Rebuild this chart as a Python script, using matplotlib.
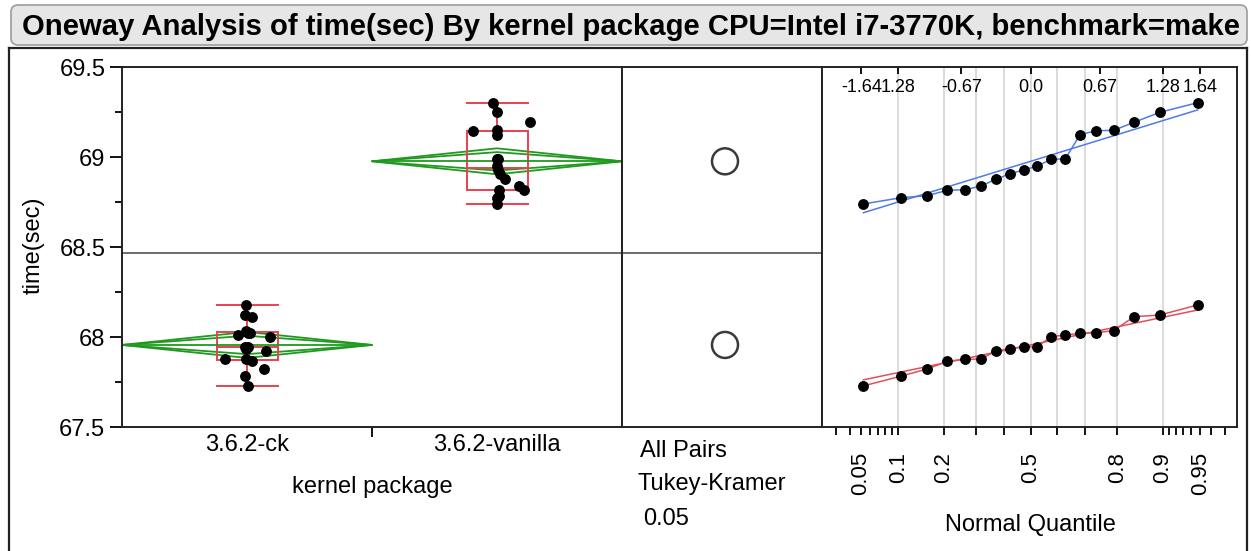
import numpy as np
import matplotlib
matplotlib.use('Agg')
import matplotlib.pyplot as plt
from matplotlib import font_manager, transforms
from matplotlib.patches import FancyBboxPatch, Rectangle, Circle, Polygon
from matplotlib.lines import Line2D
from statistics import NormalDist

# data (sorted run times per kernel, 18 runs each)
groups = ['3.6.2-ck', '3.6.2-vanilla']
time_ck = [67.728, 67.783, 67.822, 67.865, 67.876, 67.878, 67.922, 67.935, 67.946,
           67.946, 68.002, 68.011, 68.020, 68.024, 68.035, 68.113, 68.122, 68.178]
time_vanilla = [68.739, 68.774, 68.785, 68.815, 68.818, 68.839, 68.876, 68.907, 68.928,
                68.950, 68.987, 68.989, 69.124, 69.146, 69.148, 69.193, 69.248, 69.302]
# horizontal jitter of the dots (category units)
jitter_ck = [0.004, -0.008, 0.068, 0.02, -0.088, -0.004, 0.076, -0.004, 0.004,
             -0.008, 0.092, -0.036, 0.004, 0.012, -0.004, 0.02, -0.008, -0.004]
jitter_vanilla = [0.0, 0.0, 0.008, 0.008, 0.108, 0.088, 0.032, 0.012, 0.004,
                  0.0, 0.0, 0.004, 0.0, -0.096, 0.0, 0.132, 0.0, -0.016]
prob_ticks = [0.03, 0.04, 0.05, 0.06, 0.07, 0.08, 0.09, 0.1, 0.2, 0.3, 0.4, 0.5,
              0.6, 0.7, 0.8, 0.9, 0.91, 0.92, 0.93, 0.94, 0.95, 0.96, 0.97]
prob_labels = {0.05: '0.05', 0.1: '0.1', 0.2: '0.2', 0.5: '0.5', 0.8: '0.8',
               0.9: '0.9', 0.95: '0.95'}
quantile_marks = [-1.64, -1.28, -0.67, 0.0, 0.67, 1.28, 1.64]
quantile_labels = ['-1.64', '1.28', '-0.67', '0.0', '0.67', '1.28', '1.64']
title = 'Oneway Analysis of time(sec) By kernel package CPU=Intel i7-3770K, benchmark=make'

t_crit = 2.032  # t(0.975, 34)

names = {f.name for f in font_manager.fontManager.ttflist}
base_font = 'Liberation Sans' if 'Liberation Sans' in names else 'DejaVu Sans'
title_font = 'Liberation Sans Narrow' if 'Liberation Sans Narrow' in names else base_font
plt.rcParams['font.family'] = [base_font, 'DejaVu Sans']

W, H = 1251, 551
fig = plt.figure(figsize=(W / 100, H / 100), dpi=100)


def box(l, t, r, b):
    return [l / W, 1 - b / H, (r - l) / W, (b - t) / H]


def ftext(x, y, s, **kw):
    return fig.text(x / W, 1 - y / H, s, **kw)


# title bar + outer frame
fig.add_artist(FancyBboxPatch((11, H - 45), 1236, 40, boxstyle='round,pad=0,rounding_size=7',
                              transform=transforms.IdentityTransform(),
                              facecolor='#e6e6e6', edgecolor='#9c9c9c', lw=1.2))
tt = ftext(22, 35, title, fontsize=20, weight='bold', family=title_font, va='baseline')
fig.canvas.draw()
bb = tt.get_window_extent(fig.canvas.get_renderer())
tt.set_fontsize(20 * 1216 / bb.width)

for xs, ys in [([9, 9], [48, 560]), ([9, 1247], [48, 48]), ([1247, 1247], [48, 560])]:
    fig.add_artist(Line2D([x / W for x in xs], [1 - y / H for y in ys], color='#222222', lw=1.6))

ax1 = fig.add_axes(box(122, 67, 622, 427))
ax2 = fig.add_axes(box(622, 67, 822, 427))
ax3 = fig.add_axes(box(822, 67, 1237, 427))
for ax in (ax1, ax2, ax3):
    ax.set_ylim(67.5, 69.5)
    for sp in ax.spines.values():
        sp.set_color('#222222')
        sp.set_linewidth(1.4)

data = [np.array(time_ck), np.array(time_vanilla)]
jitters = [np.array(jitter_ck), np.array(jitter_vanilla)]
n = len(time_ck)
mse = sum(((v - v.mean()) ** 2).sum() for v in data) / (sum(len(v) for v in data) - len(data))
half_ci = t_crit * np.sqrt(mse / n)
grand = np.mean(np.concatenate(data))

green = '#1f9a1f'
red = '#e8414f'

# dot plot with means diamonds and box plots
ax1.set_xlim(0, 2)
for i, v in enumerate(data):
    c = i + 0.5
    m = v.mean()
    for h in (half_ci, half_ci * np.sqrt(2) / 2):
        ax1.add_patch(Polygon([[c - 0.5, m], [c, m + h], [c + 0.5, m], [c, m - h]],
                              closed=True, fill=False, edgecolor=green, lw=1.3))
    ax1.plot([c - 0.5, c + 0.5], [m, m], color=green, lw=1.3)
    q1, med, q3 = np.percentile(v, [25, 50, 75], method='weibull')
    iqr = q3 - q1
    lo = v[v >= q1 - 1.5 * iqr].min()
    hi = v[v <= q3 + 1.5 * iqr].max()
    bw = 0.122
    ax1.add_patch(Rectangle((c - bw, q1), 2 * bw, q3 - q1, fill=False, edgecolor=red, lw=1.4))
    ax1.plot([c - bw, c + bw], [med, med], color=red, lw=1.4)
    ax1.plot([c, c], [q3, hi], color=red, lw=1.4)
    ax1.plot([c, c], [q1, lo], color=red, lw=1.4)
    ax1.plot([c - bw, c + bw], [hi, hi], color=red, lw=1.4)
    ax1.plot([c - bw, c + bw], [lo, lo], color=red, lw=1.4)
    ax1.plot(c + jitters[i], v, 'o', color='black', ms=6.8, zorder=5)

ax1.axhline(grand, color='#555555', lw=1.2)
ax1.set_xticks([0.5, 1.5])
ax1.set_xticklabels(groups, fontsize=17)
ax1.set_xticks([1.0], minor=True)
ax1.tick_params(axis='x', which='major', length=0, pad=5)
ax1.tick_params(axis='x', which='minor', length=7, width=1.3, direction='out')
ax1.set_yticks([67.5, 68, 68.5, 69, 69.5])
ax1.set_yticklabels(['67.5', '68', '68.5', '69', '69.5'], fontsize=17)
ax1.set_yticks([67.75, 68.25, 68.75, 69.25], minor=True)
ax1.tick_params(axis='y', which='major', length=9, width=1.3, pad=3)
ax1.tick_params(axis='y', which='minor', length=5, width=1.3)

ftext(372, 487, 'kernel package', fontsize=17, ha='center', va='center')
ftext(34, 245, 'time(sec)', fontsize=17, ha='center', va='center', rotation=90)

# comparison circles
ax2.set_xlim(0, 200 / 180)
ax2.set_xticks([])
ax2.set_yticks([])
ax2.axhline(grand, color='#555555', lw=1.2)
for v in data:
    ax2.add_patch(Circle((103 / 180, v.mean()), half_ci, fill=False,
                         edgecolor='#3a3a3a', lw=1.8))
ftext(640, 451, 'All Pairs', fontsize=17, va='center')
ftext(638, 484, 'Tukey-Kramer', fontsize=17, va='center')
ftext(643, 519, '0.05', fontsize=17, va='center')

# normal quantile plot
nd = NormalDist()
ax3.set_xlim(-2.02, 2.0)
ax3.tick_params(axis='y', left=False, labelleft=False)
for p in [0.1, 0.2, 0.3, 0.4, 0.5, 0.6, 0.7, 0.8, 0.9]:
    ax3.axvline(nd.inv_cdf(p), color='#d6d6d6', lw=1.2, zorder=0)
colors = ['#e0505c', '#4f7be6']
for i, v in enumerate(data):
    vs = np.sort(v)
    z = np.array([nd.inv_cdf(k / (n + 1)) for k in range(1, n + 1)])
    m, s = vs.mean(), vs.std(ddof=1)
    ax3.plot(z, vs, color=colors[i], lw=1.1, zorder=2)
    ax3.plot([z[0], z[-1]], [m + s * z[0], m + s * z[-1]], color=colors[i], lw=1.1, zorder=2)
    ax3.plot(z, vs, 'o', color='black', ms=6.8, zorder=5)

ax3.set_xticks([nd.inv_cdf(p) for p in prob_ticks])
ax3.set_xticklabels([prob_labels.get(p, '') for p in prob_ticks], rotation=90, fontsize=16)
ax3.tick_params(axis='x', length=6, width=1.3, pad=12)
top = ax3.secondary_xaxis('top')
top.set_xticks(quantile_marks)
top.set_xticklabels([])
top.tick_params(axis='x', direction='in', length=5, width=1.3)
top.spines['top'].set_visible(False)
blend = transforms.blended_transform_factory(ax3.transData, ax3.transAxes)
for zq, lab in zip(quantile_marks, quantile_labels):
    ax3.text(zq, (427 - 87) / 360, lab, transform=blend, fontsize=13,
             ha='center', va='center')
ftext(1030, 525, 'Normal Quantile', fontsize=17, ha='center', va='center')

fig.savefig('out.png', dpi=100)
